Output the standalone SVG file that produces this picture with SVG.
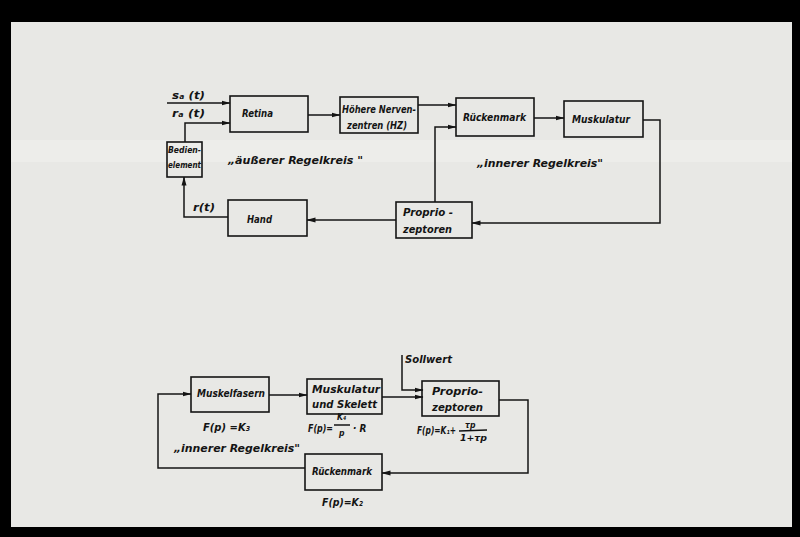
<svg xmlns="http://www.w3.org/2000/svg" width="800" height="537" viewBox="0 0 800 537">
<defs>
<marker id="ah" markerWidth="9" markerHeight="6" refX="8.5" refY="3" orient="auto" markerUnits="userSpaceOnUse">
<path d="M0,0.5 L9,3 L0,5.5 z" fill="#141414"/>
</marker>
<style>
.bx{fill:none;stroke:#141414;stroke-width:1.6}
.ln{fill:none;stroke:#141414;stroke-width:1.5}
.ar{marker-end:url(#ah)}
text{font-family:"DejaVu Sans Condensed","DejaVu Sans",sans-serif;font-style:italic;font-weight:bold;fill:#141414;font-size:11px}
.sm{font-size:8.5px}
.md{font-size:10px}
</style>
</defs>
<rect x="0" y="0" width="800" height="537" fill="#000"/>
<rect x="11" y="22" width="781" height="505" fill="#e8e8e5"/>
<rect x="11" y="140" width="781" height="22" fill="#f0f0ed" opacity="0.6"/>

<g id="connectors">
<!-- top diagram -->
<path class="ln ar" d="M167,103 H230"/>
<path class="ln ar" d="M185,142 V123 H230"/>
<path class="ln ar" d="M308,115 H340"/>
<path class="ln ar" d="M418,105 H456"/>
<path class="ln ar" d="M435,202 V127 H456"/>
<path class="ln ar" d="M534,118 H564"/>
<path class="ln ar" d="M643,120 H660 V223 H472"/>
<path class="ln ar" d="M396,220 H307"/>
<path class="ln ar" d="M228,217 H184 V177"/>
<!-- bottom diagram -->
<path class="ln ar" d="M269,395 H307"/>
<path class="ln ar" d="M382,397 H423"/>
<path class="ln ar" d="M402,355 V390 H423"/>
<path class="ln ar" d="M499,400 H528 V473 H382"/>
<path class="ln ar" d="M305,468 H158 V394 H191"/>
</g>

<g id="retina"><rect class="bx" x="230" y="96" width="78" height="36"/><text x="242" y="117" textLength="31" lengthAdjust="spacingAndGlyphs">Retina</text></g>
<g id="hnz"><rect class="bx" x="340" y="97" width="78" height="36"/><text x="342" y="113" class="md" textLength="74" lengthAdjust="spacingAndGlyphs">Höhere Nerven-</text><text x="347" y="129" class="md" textLength="60" lengthAdjust="spacingAndGlyphs">zentren (HZ)</text></g>
<g id="rueckenmark1"><rect class="bx" x="456" y="98" width="78" height="38"/><text x="463" y="121" textLength="63" lengthAdjust="spacingAndGlyphs">Rückenmark</text></g>
<g id="muskulatur1"><rect class="bx" x="564" y="101" width="79" height="36"/><text x="572" y="123" textLength="58" lengthAdjust="spacingAndGlyphs">Muskulatur</text></g>
<g id="proprio1"><rect class="bx" x="396" y="202" width="76" height="36"/><text x="403" y="216" textLength="50" lengthAdjust="spacingAndGlyphs">Proprio -</text><text x="403" y="233" textLength="49" lengthAdjust="spacingAndGlyphs">zeptoren</text></g>
<g id="hand"><rect class="bx" x="228" y="200" width="79" height="36"/><text x="247" y="223" textLength="25" lengthAdjust="spacingAndGlyphs">Hand</text></g>
<g id="bedienelement"><rect class="bx" x="167" y="142" width="35" height="35"/><text x="168" y="153" class="sm" textLength="33" lengthAdjust="spacingAndGlyphs">Bedien-</text><text x="168" y="168" class="sm" textLength="33" lengthAdjust="spacingAndGlyphs">element</text></g>

<g id="labels-top">
<text x="172" y="99" font-size="12" textLength="33" lengthAdjust="spacingAndGlyphs">sₐ (t)</text>
<text x="172" y="117" font-size="12" textLength="33" lengthAdjust="spacingAndGlyphs">rₐ (t)</text>
<text x="193" y="211" font-size="12" textLength="22" lengthAdjust="spacingAndGlyphs">r(t)</text>
<text x="228" y="164" font-size="12" textLength="135" lengthAdjust="spacingAndGlyphs">„äußerer Regelkreis "</text>
<text x="477" y="167" font-size="12" textLength="126" lengthAdjust="spacingAndGlyphs">„innerer Regelkreis"</text>
</g>

<g id="muskelfasern"><rect class="bx" x="191" y="377" width="78" height="35"/><text x="197" y="397" textLength="68" lengthAdjust="spacingAndGlyphs">Muskelfasern</text></g>
<g id="muskulatur2"><rect class="bx" x="307" y="379" width="75" height="35"/><text x="312" y="393" textLength="68" lengthAdjust="spacingAndGlyphs">Muskulatur</text><text x="312" y="408" textLength="65" lengthAdjust="spacingAndGlyphs">und Skelett</text></g>
<g id="proprio2"><rect class="bx" x="422" y="381" width="77" height="35"/><text x="432" y="395" textLength="51" lengthAdjust="spacingAndGlyphs">Proprio-</text><text x="432" y="411" textLength="51" lengthAdjust="spacingAndGlyphs">zeptoren</text></g>
<g id="rueckenmark2"><rect class="bx" x="305" y="454" width="77" height="36"/><text x="312" y="475" textLength="60" lengthAdjust="spacingAndGlyphs">Rückenmark</text></g>

<g id="labels-bottom">
<text x="405" y="363" textLength="47" lengthAdjust="spacingAndGlyphs">Sollwert</text>
<text x="203" y="431" textLength="47" lengthAdjust="spacingAndGlyphs">F(p) =K₃</text>
<text x="174" y="452" font-size="12" textLength="126" lengthAdjust="spacingAndGlyphs">„innerer Regelkreis"</text>
<text x="308" y="432" class="md" textLength="25" lengthAdjust="spacingAndGlyphs">F(p)=</text>
<text x="337" y="420" class="sm">K₄</text>
<path class="ln" d="M334,425 H350" stroke-width="1.1"/>
<text x="339" y="436" class="sm">p</text>
<text x="353" y="432" class="md">· R</text>
<text x="417" y="434" class="md" textLength="39" lengthAdjust="spacingAndGlyphs">F(p)=K₁+</text>
<text x="465" y="428" class="sm">τp</text>
<path class="ln" d="M459,431 L487,430" stroke-width="1.1"/>
<text x="460" y="441" class="sm" textLength="27" lengthAdjust="spacingAndGlyphs">1+τp</text>
<text x="322" y="506" textLength="41" lengthAdjust="spacingAndGlyphs">F(p)=K₂</text>
</g>
</svg>
